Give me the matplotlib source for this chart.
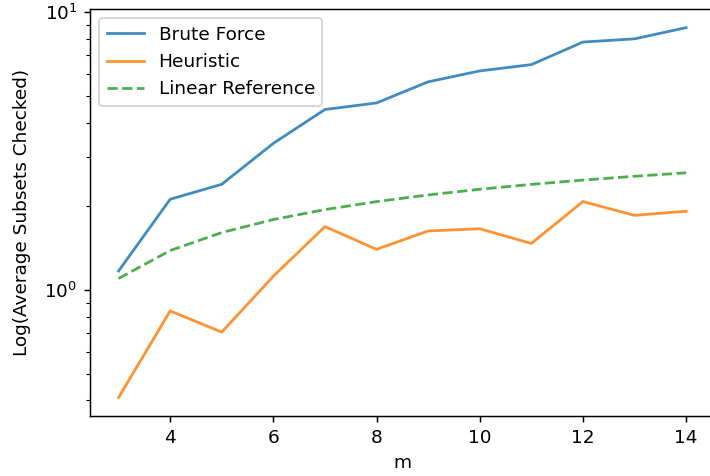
import matplotlib
matplotlib.use("Agg")
import matplotlib.pyplot as plt

# values
m = [3, 4, 5, 6, 7, 8, 9, 10, 11, 12, 13, 14]
brute_force = [1.17, 2.12, 2.40, 3.37, 4.46, 4.71, 5.61, 6.14, 6.47, 7.80, 8.01, 8.79]
heuristic = [0.41, 0.84, 0.705, 1.12, 1.69, 1.40, 1.63, 1.66, 1.47, 2.08, 1.855, 1.92]
linear_ref = [1.099, 1.386, 1.609, 1.792, 1.946, 2.079, 2.197, 2.303, 2.398, 2.485, 2.565, 2.639]

fig = plt.figure(figsize=(5.34, 3.58), dpi=133)
ax = fig.add_axes([0.127, 0.126, 0.879, 0.8545])

ax.plot(m, brute_force, label="Brute Force", color="tab:blue", alpha=0.85)
ax.plot(m, heuristic, label="Heuristic", color="tab:orange", alpha=0.85)
ax.plot(m, linear_ref, "--", label="Linear Reference", color="tab:green", alpha=0.85)
ax.set_yscale("log")
# right edge of the axes falls just outside the canvas in the reference
ax.spines["right"].set_visible(False)

ax.set_xlabel("m")
ax.set_ylabel("Log(Average Subsets Checked)", labelpad=7)
ax.legend(loc="upper left")

fig.savefig("out.png", dpi=133)
